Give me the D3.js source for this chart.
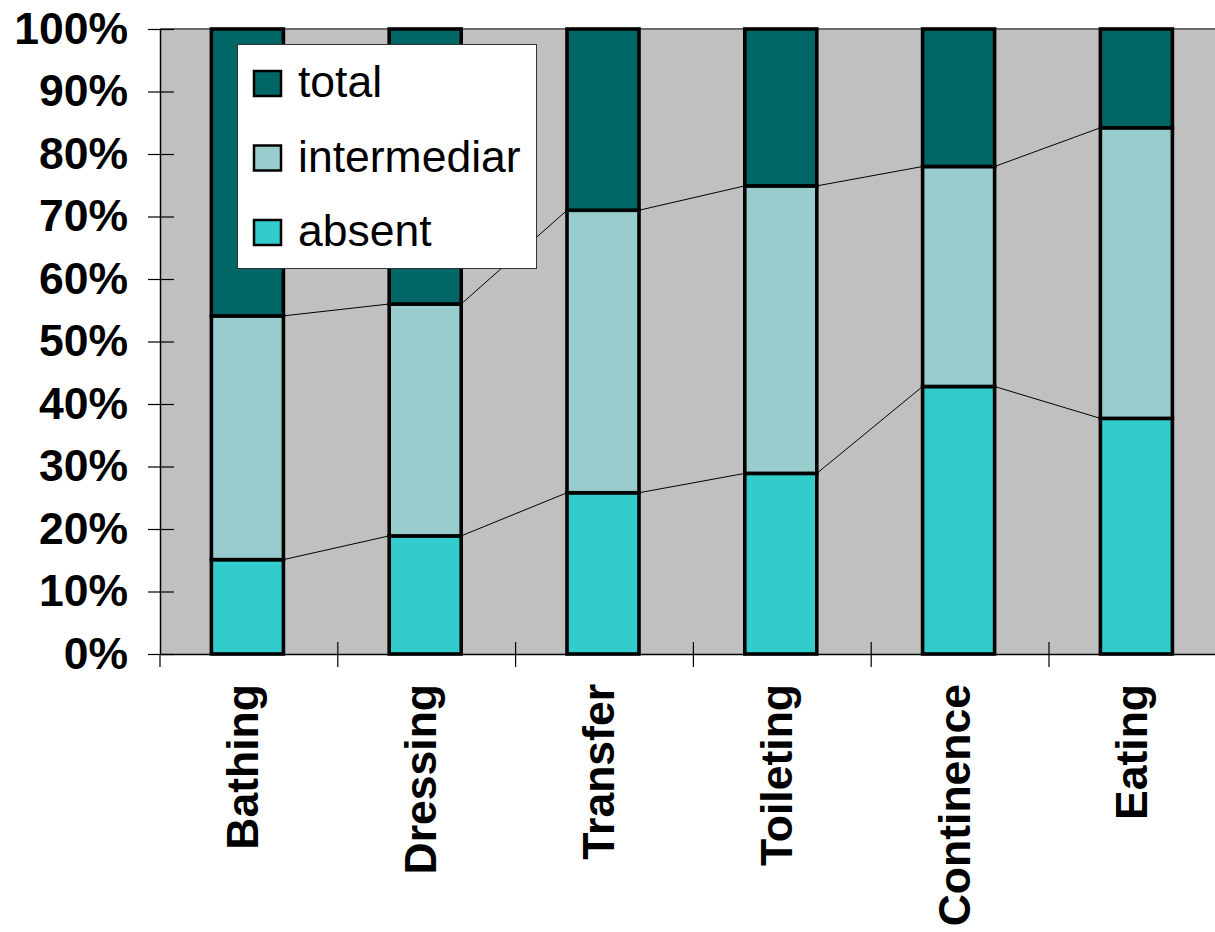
<!DOCTYPE html>
<html>
<head>
<meta charset="utf-8">
<script src="https://cdn.jsdelivr.net/npm/d3@7"></script>
<style>
  html, body { margin: 0; padding: 0; background: #ffffff; }
  svg { display: block; }
  text { font-family: "Liberation Sans", Arial, Helvetica, sans-serif; }
</style>
</head>
<body>
<svg id="chart" width="1215" height="932"></svg>
<script>
// Activities of daily living and share of dependence level (percent of patients)
const categories = ["Bathing", "Dressing", "Transfer", "Toileting", "Continence", "Eating"];
const absent      = [15.1, 18.9, 25.8, 28.9, 42.8, 37.7];
const intermediar = [39.0, 37.1, 45.2, 46.0, 35.2, 46.5];
const total       = [45.9, 44.0, 29.0, 25.1, 22.0, 15.8];
const seriesNames = ["absent", "intermediar", "total"];
const seriesColors = ["#33CCCC", "#99CCCC", "#006666"];
const yTicks = [0, 10, 20, 30, 40, 50, 60, 70, 80, 90, 100];

const svg = d3.select("#chart");
const plot = { left: 160, top: 29, bottom: 654, step: 177.8 };
plot.right = plot.left + plot.step * categories.length;
const fontSize = 44.5;

const x = d3.scaleBand().domain(categories).range([plot.left, plot.right]).padding(0);
const y = d3.scaleLinear().domain([0, 100]).range([plot.bottom, plot.top]);
const barW = x.bandwidth() * 0.405;
const barX = c => x(c) + (x.bandwidth() - barW) / 2 - 1.5;

// plot area background
svg.append("rect")
  .attr("x", plot.left).attr("y", plot.top)
  .attr("width", plot.right - plot.left).attr("height", plot.bottom - plot.top)
  .attr("fill", "#C0C0C0");
svg.append("line")
  .attr("x1", plot.left).attr("x2", plot.right)
  .attr("y1", plot.top).attr("y2", plot.top)
  .attr("stroke", "#6a6a6a").attr("stroke-width", 2);

// stacked data
const rows = categories.map((c, i) => ({ cat: c, absent: absent[i], intermediar: intermediar[i], total: total[i] }));
const stacked = d3.stack().keys(seriesNames)(rows);

// series lines joining segment tops between neighbouring bars
const lineG = svg.append("g");
stacked.slice(0, 2).forEach(layer => {
  for (let i = 0; i < layer.length - 1; i++) {
    const a = layer[i], b = layer[i + 1];
    lineG.append("line")
      .attr("x1", barX(a.data.cat) + barW).attr("y1", y(a[1]))
      .attr("x2", barX(b.data.cat)).attr("y2", y(b[1]))
      .attr("stroke", "#000").attr("stroke-width", 1);
  }
});

// bars
const barG = svg.append("g");
stacked.forEach((layer, k) => {
  barG.selectAll(null).data(layer).join("rect")
    .attr("x", d => barX(d.data.cat))
    .attr("y", d => y(d[1]))
    .attr("width", barW)
    .attr("height", d => y(d[0]) - y(d[1]))
    .attr("fill", seriesColors[k])
    .attr("stroke", "#000")
    .attr("stroke-width", 3.6);
});

// value axis
const yAxis = d3.axisLeft(y).tickValues(yTicks).tickFormat(d => d + "%").tickSize(0).tickPadding(32);
const yg = svg.append("g").attr("transform", `translate(${plot.left},0)`).call(yAxis);
yg.select(".domain").attr("stroke", "#000").attr("stroke-width", 1.5);
yg.selectAll(".tick line").remove();
yg.selectAll(".tick").append("line")
  .attr("x1", -12).attr("x2", 14).attr("stroke", "#000").attr("stroke-width", 1.2);
yg.selectAll(".tick text")
  .attr("font-size", fontSize).attr("font-weight", "bold").attr("fill", "#000")
  .attr("font-family", "'Liberation Sans', Arial, sans-serif");

// category axis
const xAxis = d3.axisBottom(x).tickSize(0).tickFormat("");
const xg = svg.append("g").attr("transform", `translate(0,${plot.bottom})`).call(xAxis);
xg.select(".domain").attr("stroke", "#000").attr("stroke-width", 1.5);
xg.selectAll(".tick").remove();
const sep = d3.range(categories.length).map(i => x(categories[i]));
xg.selectAll("line.sep").data(sep).join("line")
  .attr("class", "sep")
  .attr("x1", d => d).attr("x2", d => d)
  .attr("y1", d => d === plot.left ? 0 : -12).attr("y2", 13)
  .attr("stroke", "#000").attr("stroke-width", 1.2);

// category labels, rotated
svg.append("g").selectAll("text").data(categories).join("text")
  .attr("transform", d => `translate(${x(d) + x.bandwidth() / 2 + 9.5},684) rotate(-90)`)
  .attr("text-anchor", "end")
  .attr("font-size", fontSize).attr("font-weight", "bold").attr("fill", "#000")
  .text(d => d);

// legend
const legend = svg.append("g");
legend.append("rect")
  .attr("x", 237.5).attr("y", 44.5).attr("width", 299).attr("height", 224)
  .attr("fill", "#fff").attr("stroke", "#333").attr("stroke-width", 1);
const legendOrder = ["total", "intermediar", "absent"];
legendOrder.forEach((name, i) => {
  const gy = 71 + i * 74.5;
  legend.append("rect")
    .attr("x", 254).attr("y", gy).attr("width", 27).attr("height", 25)
    .attr("fill", seriesColors[seriesNames.indexOf(name)])
    .attr("stroke", "#000").attr("stroke-width", 2.5);
  legend.append("text")
    .attr("x", 298).attr("y", gy + 26)
    .attr("font-size", fontSize).attr("fill", "#000")
    .text(name);
});
</script>
</body>
</html>
